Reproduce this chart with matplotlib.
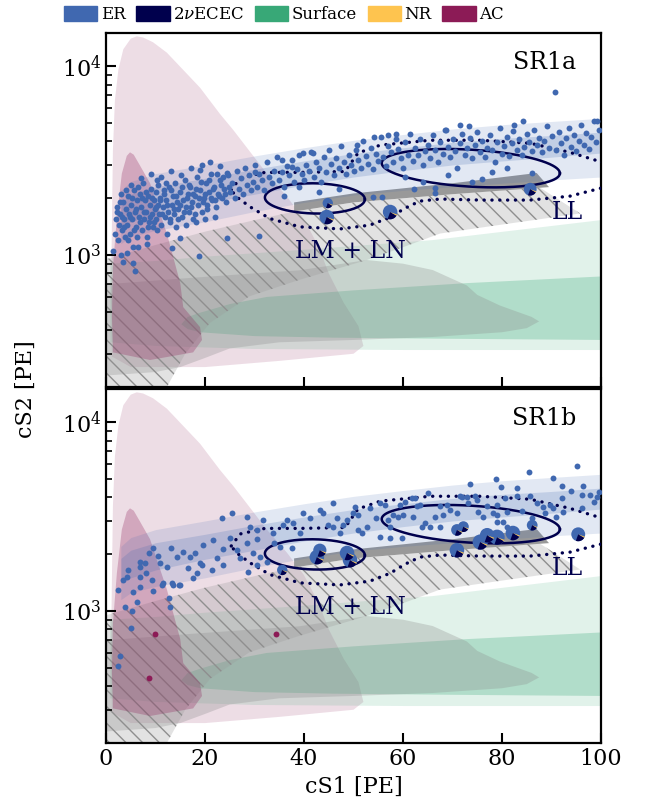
import numpy as np
import matplotlib
matplotlib.use('Agg')
import matplotlib.pyplot as plt
from matplotlib.patches import Patch
from matplotlib.path import Path
from matplotlib.ticker import NullFormatter

plt.rcParams['font.family'] = 'DejaVu Serif'
plt.rcParams['mathtext.fontset'] = 'dejavuserif'
plt.rcParams['hatch.linewidth'] = 1.0

c_er = '#4068b0'
c_ecec = '#00004d'
c_surf = '#38a877'
c_nr = '#fec44f'
c_ac = '#8c1b56'

# ---- background model contours (cS1 [PE], cS2 [PE]) ----
er_x = [3, 5, 10, 20, 30, 40, 50, 60, 70, 80, 90, 100]
er_2s_hi = [2200, 2450, 2700, 3000, 3350, 3700, 4050, 4350, 4650, 4900, 5100, 5300]
er_1s_hi = [1900, 2100, 2300, 2550, 2850, 3150, 3450, 3700, 3950, 4150, 4300, 4480]
er_1s_lo = [1400, 1500, 1650, 1880, 2100, 2350, 2590, 2800, 3000, 3150, 3300, 3470]
er_2s_lo = [1150, 1250, 1350, 1500, 1700, 1900, 2080, 2200, 2300, 2400, 2500, 2590]

ac_2s_x = [1.2, 1.0, 1.2, 1.4, 1.8, 2.5, 3.5, 5.0, 6.2, 7.5, 9.5, 12.3, 19, 23, 25.7,
           32.5, 36.6, 40, 43, 45, 48, 51, 52, 50, 35, 20, 5]
ac_2s_y = [290, 600, 1500, 3600, 6600, 9600, 12300, 14000, 14400, 14200, 13400, 11800,
           7700, 5600, 4600, 2700, 2030, 1550, 1100, 800, 560, 420, 330, 300, 275, 255, 255]

ac_1s_x = [1.4, 1.2, 1.4, 2.2, 3.2, 4.2, 4.85, 5.6, 6.8, 8.9, 12.3, 15.0, 15.6, 19.0,
           19.4, 17.6, 8.9, 1.4]
ac_1s_y = [330, 470, 860, 1590, 2700, 3350, 3500, 3400, 3000, 2400, 1300, 710, 530,
           415, 355, 305, 278, 305]

surf_2s_x = [0.8, 10, 20, 39, 66, 100, 100, 60, 30, 10, 0.8]
surf_2s_y = [900, 930, 980, 1062, 1200, 1531, 314, 314, 318, 330, 345]

surf_1s_x = [15.2, 16.5, 19, 25, 32.5, 50, 72.9, 100, 100, 70, 45.9, 30, 19, 16.5]
surf_1s_y = [430, 470, 495, 550, 600, 650, 710, 770, 355, 360, 365, 372, 390, 405]

gray_x = [0, 0, 15, 30, 39, 52.7, 60, 66, 72.9, 75, 79.6, 86, 87.5, 85, 80, 66, 50,
          35, 25, 20, 15, 10]
gray_y = [230, 700, 750, 800, 830, 941, 900, 833, 690, 615, 540, 470, 445, 410, 390,
          368, 355, 345, 320, 285, 255, 240]

hatch_x = [0, 10, 20, 30, 38, 50, 70, 87.5, 95.8, 80, 67.5, 60, 52.7, 39, 29, 21,
           16, 12.3, 0]
hatch_y = [950, 1130, 1330, 1530, 1700, 1900, 2100, 2290, 1660, 1450, 1300, 1100,
           941, 738, 605, 437, 300, 200, 200]

strip_x = [38, 50, 70, 89.5, 87, 70, 50, 38]
strip_y = [1700, 1900, 2100, 2290, 2720, 2400, 2120, 1900]

# 2vECEC 1 sigma ellipses: centre cS1, centre cS2, half width cS1, half height (dex), tilt
ecec_ll = (73.7, 2885, 18.0, 0.098, -0.0015)
ecec_lmln = (42.2, 1995, 10.1, 0.080, -0.0005)

ecec_2s_x = [25.3, 27.1, 32.1, 39.2, 48.3, 50.9, 55.4, 65.5, 75.6, 85.7, 93.7, 100.8,
             100.8, 93.7, 85.7, 75.6, 67.5, 63.4, 60.4, 57.4, 53.3, 47.3, 39.2, 33.1,
             29.1, 26.3, 25.3]
ecec_2s_y = [2210, 2560, 2740, 2740, 2770, 3470, 3820, 4055, 4055, 3910, 3500, 3070,
             2290, 2050, 1955, 1955, 1980, 1930, 1770, 1585, 1440, 1375, 1410, 1560,
             1800, 2040, 2210]

# ---- observed events ----
sr1a_events = [
    (1.5, 1050), (1.8, 1300), (2.0, 1550), (2.2, 1800), (2.5, 1200), (2.6, 1450), (2.8, 1650),
    (3.0, 1000), (3.2, 1350), (3.4, 920), (3.5, 1900), (3.6, 1550), (3.8, 1250), (4.0, 1750),
    (4.2, 1030), (4.3, 1450), (4.5, 2050), (4.6, 1650), (4.8, 1300), (5.0, 1850), (5.2, 1550),
    (5.5, 1100), (5.5, 910), (5.6, 2200), (5.8, 1700), (5.9, 820), (6.0, 1400), (6.2, 1950),
    (6.5, 1100), (6.6, 1600), (6.8, 2100), (7.0, 1800), (7.2, 1350), (7.5, 2400), (7.6, 1550),
    (7.8, 1950), (8.0, 1700), (8.2, 1250), (8.5, 2050), (8.6, 1500), (8.8, 1850), (9.0, 2250),
    (9.2, 1650), (9.4, 1400), (9.6, 1950), (9.8, 1750), (10.0, 2150), (10.2, 1550), (10.5, 1850),
    (10.6, 2350), (10.8, 1650), (11.0, 2000), (11.2, 1450), (11.5, 1800), (11.8, 2200),
    (12.0, 1600), (12.2, 1950), (12.5, 1700), (12.8, 2300), (13.0, 1500), (13.3, 1090),
    (13.4, 1850), (13.6, 2050), (13.8, 1650), (14.0, 2400), (14.3, 1900), (14.6, 1750),
    (15.0, 1230), (15.0, 2150), (15.3, 1600), (15.6, 1950), (16.0, 2500), (16.2, 1800),
    (16.5, 2100), (16.8, 1700), (17.0, 2300), (17.3, 1900), (17.6, 1550), (18.0, 2050),
    (18.3, 2600), (18.6, 1850), (18.8, 985), (19.0, 2200), (19.4, 1700), (19.8, 2000),
    (20.2, 2400), (20.5, 1850), (20.8, 2150), (21.2, 2700), (21.5, 1950), (21.8, 2300),
    (22.2, 1800), (22.6, 2100), (23.0, 2500), (23.4, 2000), (23.8, 2250), (24.2, 1900),
    (24.4, 1230), (24.6, 2650), (25.0, 2150), (25.5, 2400), (26.0, 2000), (26.4, 2800),
    (26.8, 2250), (27.2, 2550), (27.6, 2100), (28.0, 2900), (28.4, 2350), (28.8, 2650),
    (29.2, 2200), (29.6, 2450), (30.0, 3000), (30.5, 2300), (31.0, 1260), (31.0, 2700),
    (31.5, 2500), (32.0, 2200), (32.5, 3100), (33.0, 2600), (33.5, 2400), (34.0, 2800),
    (34.5, 3300), (35.0, 2500), (35.5, 2750), (36.0, 2300), (36.5, 2950), (37.0, 2650),
    (37.5, 3200), (38.0, 2450), (38.5, 2850), (39.0, 3400), (39.5, 2700), (40.0, 2500),
    (40.5, 3000), (41.0, 2800), (41.5, 3500), (42.0, 2600), (42.5, 3100), (43.0, 2900),
    (43.5, 2450), (44.0, 3300), (44.5, 2750), (45.0, 3600), (45.5, 3050), (46.0, 2650),
    (46.5, 3250), (47.0, 2900), (47.5, 3800), (48.0, 3100), (48.5, 2700), (49.0, 3400),
    (49.5, 3000), (50.0, 2800), (50.5, 3600), (51.0, 3200), (51.5, 2900), (52.0, 4000),
    (52.5, 3350), (53.0, 3050), (53.5, 3700), (54.0, 2850), (54.5, 3450), (55.0, 3150),
    (55.5, 4200), (56.0, 3300), (56.5, 2950), (57.0, 3800), (57.5, 3500), (58.0, 3100),
    (58.5, 4100), (59.0, 3650), (59.5, 3250), (60.0, 2900), (60.5, 3950), (61.0, 3400),
    (61.5, 4400), (62.0, 3150), (62.5, 3700), (63.0, 3400), (63.5, 4100), (64.0, 3000),
    (64.5, 3550), (65.0, 3850), (65.5, 3250), (66.0, 4300), (66.5, 3600), (67.0, 3100),
    (67.5, 3950), (68.0, 3450), (68.5, 4600), (69.0, 3750), (69.5, 3300), (70.0, 4100),
    (70.5, 3550), (71.0, 2900), (71.5, 3900), (72.0, 4400), (72.5, 3400), (73.0, 3700),
    (73.5, 4150), (74.0, 3250), (74.5, 3850), (75.0, 4500), (75.5, 3500), (76.0, 4000),
    (76.5, 3300), (77.0, 3700), (77.5, 4300), (78.0, 3600), (78.5, 3100), (79.0, 3950),
    (79.5, 4700), (80.0, 3450), (80.5, 3800), (81.0, 4200), (81.5, 3350), (82.0, 3900),
    (82.5, 4900), (83.0, 3600), (83.5, 4100), (84.0, 3400), (84.5, 3750), (85.0, 4400),
    (85.5, 3950), (86.0, 3550), (86.5, 4600), (87.0, 3850), (87.5, 4150), (88.0, 3500),
    (88.5, 4000), (89.0, 4800), (89.5, 3700), (90.0, 4250), (90.7, 7280), (91.0, 3600),
    (91.5, 4500), (92.0, 3900), (92.5, 3400), (93.0, 4150), (93.5, 4700), (94.0, 3750),
    (94.5, 4300), (95.0, 3550), (95.5, 4000), (96.0, 4900), (96.5, 3850), (97.0, 4450),
    (97.5, 3650), (98.0, 4200), (98.5, 5100), (99.0, 3950), (99.5, 4600),
    (2.3, 1700), (2.9, 1900), (3.3, 1600), (3.7, 1400), (4.1, 2200), (4.4, 1200), (4.9, 1600),
    (5.3, 2000), (5.7, 1350), (6.1, 1750), (6.4, 2300), (6.9, 1500), (7.3, 2000), (7.7, 1700),
    (8.1, 2150), (8.4, 1400), (8.9, 1600), (9.3, 2000), (9.7, 1500), (10.1, 1800), (10.4, 2500),
    (10.9, 1950), (11.3, 1650), (11.7, 2100), (12.1, 2400), (12.4, 1850), (12.9, 1550),
    (13.2, 2200), (13.7, 1750), (14.2, 2050), (14.5, 1550), (14.9, 1850), (15.4, 2300),
    (15.8, 1700), (16.3, 2000), (16.7, 2350), (17.1, 1800), (17.5, 2100), (17.9, 1650),
    (18.2, 2250), (18.7, 2000), (19.2, 2450), (19.6, 1900), (20.0, 2100), (20.4, 1750),
    (20.9, 2500), (21.3, 2000), (21.7, 2250), (22.0, 1950), (22.4, 2700), (22.9, 2050),
    (23.3, 2350), (23.7, 2600), (24.0, 2100), (24.8, 2300), (3.1, 2100), (5.1, 2350),
    (7.1, 2550), (9.1, 2700), (11.1, 2600), (13.1, 2800), (15.1, 2650), (17.2, 2900),
    (19.3, 3000), (21.1, 3100), (23.1, 2950), (6.3, 1250), (8.3, 1150), (10.3, 1350),
    (12.3, 1300), (14.1, 1400), (16.1, 1450), (18.1, 1500), (20.1, 1550), (22.1, 1600),
    (19.0, 2820), (24.4, 2730), (30.1, 2770), (35.6, 3185), (37.6, 2930), (39.8, 3470),
    (41.8, 3470), (50.7, 3820), (84.2, 5120), (71.5, 4880), (73.3, 4800), (99.2, 5120),
    (82.2, 4530), (54.1, 4200), (57.0, 4300), (58.6, 4370), (68.7, 4585), (74.0, 2450),
    (76.0, 2530), (66.5, 2270), (66.5, 2140), (62.2, 2230), (86.0, 2720), (55.8, 2030),
    (54.0, 2030), (60.5, 2600), (64.0, 2450), (69.0, 2650), (78.0, 2750), (81.0, 2900),
    (47.0, 2250), (43.0, 2150), (39.0, 2300), (36.0, 2050),
]
sr1a_big = [(44.6, 1590, 110), (44.8, 1885, 55), (57.4, 1690, 110), (85.7, 2233, 85)]

sr1b_events = [
    (23.4, 3100), (25.5, 3300), (28.5, 3140), (13.1, 2150), (9.5, 2150), (8.7, 2030),
    (6.9, 1815), (6.9, 1710), (4.2, 1515), (3.4, 1460), (6.9, 1515), (10.9, 1790),
    (12.3, 1710), (14.3, 1930), (17.0, 1930), (18.0, 2030), (19.6, 2235), (21.6, 2370),
    (19.4, 1750), (18.4, 1590), (21.4, 1650), (23.6, 1750), (23.6, 2120), (26.5, 2100),
    (28.5, 2280), (29.7, 2030), (30.5, 2420), (31.1, 1930), (32.5, 1815), (29.1, 2780),
    (30.5, 2680), (31.7, 3030), (33.7, 2590), (35.2, 2180), (37.6, 2150), (35.8, 2850),
    (36.6, 3030), (37.8, 2940), (39.2, 2590), (39.8, 3300), (41.2, 3100), (43.2, 3420),
    (43.8, 3300), (44.8, 2850), (45.9, 3720), (45.9, 2780), (46.7, 3100), (47.9, 2850),
    (48.7, 3030), (47.3, 2590), (49.9, 3300), (13.3, 1410), (14.9, 1370), (11.3, 1370),
    (9.3, 1460), (7.9, 1790), (5.5, 1260), (6.9, 1340), (6.3, 1120), (3.8, 1050),
    (5.3, 1000), (12.7, 1170), (12.9, 1050), (5.0, 813), (11.5, 1410), (9.5, 1280),
    (13.5, 1370), (14.7, 1370), (17.6, 1500), (19.0, 1790), (28.7, 1610), (30.5, 1750),
    (2.8, 578), (2.4, 512), (2.5, 1300), (4.5, 1650), (8.0, 1600), (10.5, 1950),
    (15.5, 2050), (16.5, 1700), (22.5, 1900), (25.0, 2450), (27.0, 1900), (34.0, 2300),
    (73.5, 4700), (78.8, 4990), (85.5, 5430), (90.3, 5050), (95.2, 5850), (79.8, 4530),
    (83.0, 4480), (85.7, 4050), (83.0, 4050), (92.1, 4580), (96.4, 4580), (96.2, 4100),
    (97.8, 4100), (99.2, 4000), (92.1, 3950), (89.7, 3640), (88.3, 3560), (87.1, 3720),
    (88.7, 3300), (90.3, 3500), (92.3, 3340), (96.2, 3500), (86.1, 3100), (80.6, 3950),
    (79.0, 3640), (78.2, 3300), (81.0, 3340), (75.0, 3870), (72.9, 4000), (71.5, 4050),
    (74.5, 4050), (73.1, 3720), (75.2, 3340), (76.2, 3140), (79.0, 3220), (80.2, 2960),
    (81.0, 2780), (79.0, 2960), (70.9, 3300), (69.5, 3420), (68.1, 3220), (66.5, 3140),
    (65.5, 2780), (67.5, 2780), (63.8, 2780), (64.4, 2920), (62.8, 3600), (62.4, 3950),
    (62.0, 3140), (60.0, 3220), (59.0, 3140), (58.0, 3220), (57.0, 3030), (57.4, 2780),
    (55.4, 2480), (57.4, 2440), (59.8, 2440), (56.4, 3640), (55.4, 3720), (53.3, 3500),
    (59.4, 3640), (61.8, 3950), (63.4, 3640), (67.5, 3600), (68.9, 3640), (71.9, 4000),
    (50.9, 3220), (51.7, 2590), (52.7, 2780), (50.9, 2680), (50.3, 3560), (98.5, 3800),
    (94.0, 4300), (91.0, 3150), (84.0, 3400), (77.0, 3600), (65.0, 4200), (60.5, 3800),
    (54.5, 3100), (99.5, 4250),
]
sr1b_big = [(42.6, 1930, 110), (43.2, 2100, 90), (48.7, 2030, 110), (49.3, 1860, 110),
            (70.9, 2100, 110), (70.9, 2690, 70), (75.6, 2320, 120), (77.0, 2520, 110),
            (79.0, 2460, 120), (82.2, 2590, 110), (95.4, 2550, 100), (86.1, 2850, 60),
            (35.6, 1650, 55), (72.2, 2800, 60)]
sr1b_ac = [(9.9, 755), (8.7, 442), (34.3, 755)]


def ellipse(cx, cy, a, b, tilt):
    t = np.linspace(0, 2 * np.pi, 300)
    x = cx + a * np.cos(t)
    ly = np.log10(cy) + b * np.sin(t) + tilt * (x - cx)
    return x, 10 ** ly


def wedge(a1, a2):
    t = np.radians(np.linspace(a1, a2, 30))
    verts = [(1, 1), (0, 0)] + list(zip(np.cos(t), np.sin(t))) + [(0, 0)]
    codes = [Path.MOVETO, Path.MOVETO] + [Path.LINETO] * len(t) + [Path.CLOSEPOLY]
    return Path(verts, codes)


def draw_models(ax):
    ax.fill(ac_2s_x, ac_2s_y, color=c_ac, alpha=0.15, lw=0, zorder=1)
    ax.fill(surf_2s_x, surf_2s_y, color=c_surf, alpha=0.15, lw=0, zorder=1.1)
    ax.fill(surf_1s_x, surf_1s_y, color=c_surf, alpha=0.28, lw=0, zorder=1.2)
    ax.fill(gray_x, gray_y, color='#8c8c8c', alpha=0.3, lw=0, zorder=1.3)
    ax.fill(hatch_x, hatch_y, color='#9a9a9a', alpha=0.28, lw=0, zorder=1.4)
    ax.fill(hatch_x, hatch_y, facecolor='none', edgecolor='#8f8f8f', hatch='\\\\',
            lw=0, zorder=1.45)
    ax.fill(ac_1s_x, ac_1s_y, color=c_ac, alpha=0.28, lw=0, zorder=1.5)
    ax.fill(strip_x, strip_y, color='#999999', lw=0, zorder=1.6)
    ax.fill_between(er_x, er_2s_lo, er_2s_hi, color=c_er, alpha=0.15, lw=0, zorder=2)
    ax.fill_between(er_x, er_1s_lo, er_1s_hi, color=c_er, alpha=0.2, lw=0, zorder=2.1)

    for e in (ecec_ll, ecec_lmln):
        ex, ey = ellipse(*e)
        ax.plot(ex, ey, color=c_ecec, lw=1.8, zorder=4)
    ax.plot(ecec_2s_x, ecec_2s_y, color=c_ecec, lw=2.4, ls=(0, (0.05, 2.3)),
            dash_capstyle='round', zorder=4)

    ax.text(49.3, 1050, 'LM + LN', color=c_ecec, fontsize=17, ha='center', va='center', zorder=6)
    ax.text(93.3, 1680, 'LL', color=c_ecec, fontsize=17, ha='center', va='center', zorder=6)


def draw_events(ax, events, big, ac=()):
    ex = [p[0] for p in events]
    ey = [p[1] for p in events]
    ax.scatter(ex, ey, s=18, color=c_er, lw=0, zorder=5)
    bx = [p[0] for p in big]
    by = [p[1] for p in big]
    bs = [p[2] for p in big]
    ax.scatter(bx, by, s=bs, color=c_er, lw=0, zorder=5.1)
    ax.scatter(bx, by, s=bs, color=c_ecec, marker=wedge(250, 330), lw=0, zorder=5.2)
    ax.scatter(bx, by, s=bs, color=c_nr, marker=wedge(330, 340), lw=0, zorder=5.2)
    if ac:
        ax.scatter([p[0] for p in ac], [p[1] for p in ac], s=18, color=c_ac, lw=0, zorder=5)


fig = plt.figure(figsize=(6.45, 8.10), dpi=100)
ax1 = fig.add_axes([106 / 645, 1 - 387 / 810, 495 / 645, 354 / 810])
ax2 = fig.add_axes([106 / 645, 1 - 743 / 810, 495 / 645, 354 / 810])

draw_models(ax1)
draw_models(ax2)
draw_events(ax1, sr1a_events, sr1a_big)
draw_events(ax2, sr1b_events, sr1b_big, sr1b_ac)

for ax, name in ((ax1, 'SR1a'), (ax2, 'SR1b')):
    ax.set_yscale('log')
    ax.set_xlim(0, 100)
    ax.set_ylim(200, 15000)
    ax.set_xticks(range(0, 101, 20))
    ax.yaxis.set_minor_formatter(NullFormatter())
    ax.tick_params(which='both', direction='in', top=False, right=False, labelsize=16)
    ax.tick_params(which='major', length=7, width=1.5)
    ax.tick_params(which='minor', length=4, width=1.2)
    for s in ax.spines.values():
        s.set_linewidth(1.6)
    ax.text(0.95, 0.95, name, transform=ax.transAxes, fontsize=17, ha='right', va='top')

ax1.tick_params(labelbottom=False)
ax2.set_xlabel('cS1 [PE]', fontsize=16, labelpad=4)
fig.text(0.04, 0.52, 'cS2 [PE]', rotation=90, fontsize=16, ha='center', va='center')

handles = [Patch(color=c) for c in (c_er, c_ecec, c_surf, c_nr, c_ac)]
labels = ['ER', '2$\\nu$ECEC', 'Surface', 'NR', 'AC']
fig.legend(handles, labels, loc='center left', bbox_to_anchor=(64 / 645, 1 - 14.5 / 810),
           ncol=5, frameon=False, fontsize=12, handlelength=2.0, handleheight=1.0,
           handletextpad=0.2, columnspacing=0.65, borderpad=0, borderaxespad=0)

fig.savefig('out.png', dpi=100)
